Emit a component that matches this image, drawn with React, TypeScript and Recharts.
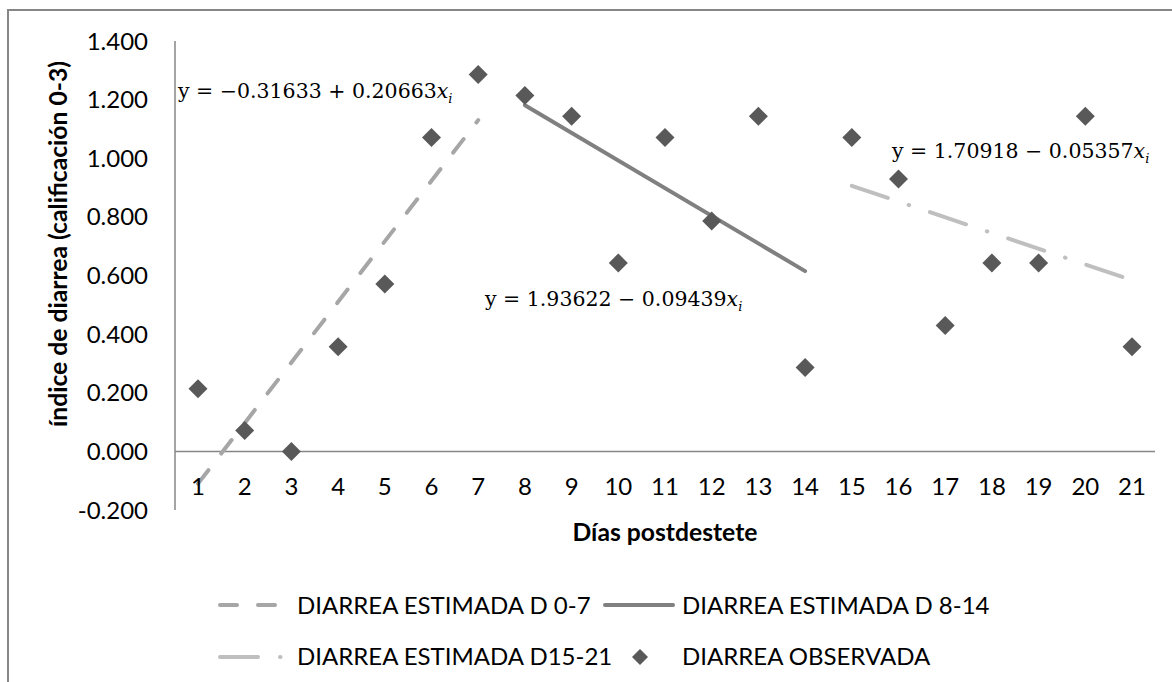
import {
  ComposedChart,
  Line,
  XAxis,
  YAxis,
  ReferenceLine,
  Legend,
} from 'recharts';

const days = ['1', '2', '3', '4', '5', '6', '7', '8', '9', '10', '11', '12', '13', '14', '15', '16', '17', '18', '19', '20', '21'];

// índice de diarrea observado por día
const observed = [0.214, 0.071, 0.0, 0.357, 0.571, 1.071, 1.286, 1.214, 1.143, 0.643, 1.071, 0.786, 1.143, 0.286, 1.071, 0.929, 0.429, 0.643, 0.643, 1.143, 0.357];

// rectas estimadas (solo extremos de cada tramo)
const estimated07 = [-0.11, null, null, null, null, null, 1.13, null, null, null, null, null, null, null, null, null, null, null, null, null, null];
const estimated814 = [null, null, null, null, null, null, null, 1.181, null, null, null, null, null, 0.615, null, null, null, null, null, null, null];
const estimated1521 = [null, null, null, null, null, null, null, null, null, null, null, null, null, null, 0.906, null, null, null, null, null, 0.584];

const yTicks = [-0.2, 0, 0.2, 0.4, 0.6, 0.8, 1.0, 1.2, 1.4];

const chartData = days.map((day, i) => ({
  day,
  obs: observed[i],
  e07: estimated07[i],
  e814: estimated814[i],
  e1521: estimated1521[i],
}));

const FONT = 'Lato, "Open Sans", sans-serif';
const MATH_FONT = '"DejaVu Serif", "Liberation Serif", serif';
const AXIS_GRAY = '#868686';
const DIAMOND = '#595959';
const DASH_07 = '17 21';
const DASH_1521 = '38 22 0.5 22';

const MARGIN = { top: 41, right: 17, left: 0, bottom: 122 };
const X_AXIS_H = 50;

function Diamond(props: any) {
  const { cx, cy, index } = props;
  if (cx == null || cy == null) return null;
  const r = 9.5;
  return (
    <polygon
      key={'d' + index}
      points={`${cx},${cy - r} ${cx + r},${cy} ${cx},${cy + r} ${cx - r},${cy}`}
      fill={DIAMOND}
    />
  );
}

function YTitle() {
  const cy = 244;
  return (
    <text
      x={57}
      y={cy}
      transform={`rotate(-90, 57, ${cy})`}
      textAnchor="middle"
      dominantBaseline="central"
      fill="#000"
      fontSize={24.7}
      fontWeight="bold"
      fontFamily={FONT}
    >
      índice de diarrea (calificación 0-3)
    </text>
  );
}

function LegendBox() {
  const text: React.CSSProperties = { position: 'absolute', whiteSpace: 'nowrap', lineHeight: '30px' };
  return (
    <div style={{ position: 'relative', width: 1172, height: 90, fontFamily: FONT, fontSize: 24, color: '#000' }}>
      <svg style={{ position: 'absolute', left: 0, top: 0 }} width={1172} height={90}>
        <line x1={220} y1={15} x2={275} y2={15} stroke="#a6a6a6" strokeWidth={4} strokeDasharray={DASH_07} strokeLinecap="round" />
        <line x1={605} y1={15} x2={673} y2={15} stroke="#808080" strokeWidth={4} strokeLinecap="round" />
        <line x1={220} y1={67} x2={282} y2={67} stroke="#bfbfbf" strokeWidth={4} strokeDasharray={DASH_1521} strokeLinecap="round" />
        <polygon points="640,59 648,67 640,75 632,67" fill={DIAMOND} />
      </svg>
      <span style={{ ...text, left: 297, top: 0 }}>DIARREA ESTIMADA D 0-7</span>
      <span style={{ ...text, left: 682, top: 0 }}>DIARREA ESTIMADA D 8-14</span>
      <span style={{ ...text, left: 297, top: 51 }}>DIARREA ESTIMADA D15-21</span>
      <span style={{ ...text, left: 682, top: 51 }}>DIARREA OBSERVADA</span>
    </div>
  );
}

function Equation({ left, top, a, op, b }: { left: number; top: number; a: string; op: string; b: string }) {
  return (
    <div
      style={{
        position: 'absolute',
        left,
        top,
        fontFamily: MATH_FONT,
        fontSize: 20.5,
        whiteSpace: 'nowrap',
        color: '#000',
        lineHeight: '24px',
      }}
    >
      y = {a} {op} {b}
      <i>x</i>
      <sub style={{ fontSize: 13, fontStyle: 'italic' }}>i</sub>
    </div>
  );
}

export default function App() {
  return (
    <div style={{ position: 'absolute', left: 0, top: 0, width: 1172, height: 682, background: '#fff', overflow: 'hidden' }}>
      <div
        style={{
          position: 'absolute',
          left: 7,
          top: 9,
          width: 1200,
          height: 720,
          border: `2px solid ${AXIS_GRAY}`,
        }}
      />
      <ComposedChart width={1172} height={682} data={chartData} margin={MARGIN} style={{ fontFamily: FONT }}>
        <XAxis
          dataKey="day"
          type="category"
          height={X_AXIS_H}
          padding={{ left: 23, right: 23 }}
          axisLine={false}
          tickLine={false}
          tickSize={0}
          tickMargin={-32}
          interval={0}
          tick={{ fill: '#000', fontSize: 24 }}
          label={{ value: 'Días postdestete', position: 'insideTop', offset: 13, fill: '#000', fontSize: 24.7, fontWeight: 'bold' }}
        />
        <YAxis
          width={175}
          domain={[-0.2, 1.4]}
          ticks={yTicks}
          interval={0}
          allowDataOverflow
          axisLine={{ stroke: AXIS_GRAY, strokeWidth: 1.5 }}
          tickLine={false}
          tickSize={0}
          tickMargin={27}
          tick={{ fill: '#000', fontSize: 24 }}
          tickFormatter={(v: number) => v.toFixed(3)}
          label={{ content: () => <YTitle /> }}
        />
        <ReferenceLine y={0} stroke={AXIS_GRAY} strokeWidth={1.5} />
        <Legend layout="vertical" align="center" verticalAlign="middle" wrapperStyle={{ left: 0, top: 590, width: 1172 }} content={<LegendBox />} />
        <Line
          dataKey="e07"
          name="DIARREA ESTIMADA D 0-7"
          stroke="#a6a6a6"
          strokeWidth={4}
          strokeDasharray={DASH_07}
          strokeLinecap="round"
          dot={false}
          activeDot={false}
          connectNulls
          isAnimationActive={false}
        />
        <Line
          dataKey="e814"
          name="DIARREA ESTIMADA D 8-14"
          stroke="#808080"
          strokeWidth={4}
          strokeLinecap="round"
          dot={false}
          activeDot={false}
          connectNulls
          isAnimationActive={false}
        />
        <Line
          dataKey="e1521"
          name="DIARREA ESTIMADA D15-21"
          stroke="#bfbfbf"
          strokeWidth={4}
          strokeDasharray={DASH_1521}
          strokeLinecap="round"
          dot={false}
          activeDot={false}
          connectNulls
          isAnimationActive={false}
        />
        <Line
          dataKey="obs"
          name="DIARREA OBSERVADA"
          stroke="none"
          dot={<Diamond />}
          activeDot={false}
          isAnimationActive={false}
        />
      </ComposedChart>
      <Equation left={178} top={79} a="−0.31633" op="+" b="0.20663" />
      <Equation left={485} top={287} a="1.93622" op="−" b="0.09439" />
      <Equation left={892} top={139} a="1.70918" op="−" b="0.05357" />
    </div>
  );
}
